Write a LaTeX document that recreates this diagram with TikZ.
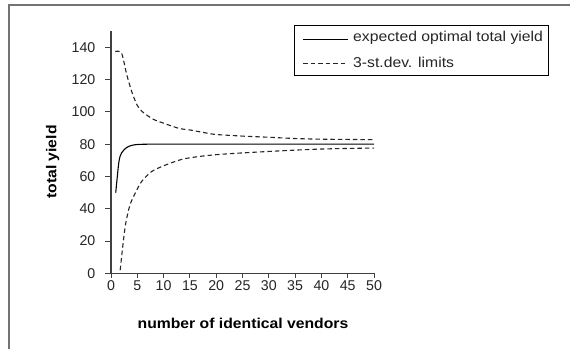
\documentclass[tikz,border=0pt]{standalone}
\usepackage{fontspec}
\setmainfont{Liberation Sans}
\newfontfamily\widefont[FakeStretch=1.1]{Liberation Sans}
\begin{document}
\begin{tikzpicture}[x=1pt,y=1pt,
  frameline/.style={draw=black!55,line width=1.8pt},
  axisline/.style={draw=black!75,line width=1.1pt},
  curve/.style={draw=black,line width=1.1pt},
  dcurve/.style={draw=black!85,line width=1.1pt,dash pattern=on 4.5pt off 3pt},
  ticklab/.style={font=\fontsize{14.2}{16}\selectfont,inner sep=0pt,text=black!85},
  axlab/.style={font=\widefont\bfseries\fontsize{14.3}{17}\selectfont,inner sep=0pt},
  legtext/.style={font=\widefont\fontsize{14.3}{17}\selectfont,inner sep=0pt,anchor=west,text=black!85}]
\useasboundingbox (0,0) rectangle (570,349);
\fill[white] (0,0) rectangle (570,349);
% frame (top and left)
\coordinate (fTL) at (9,344);
\coordinate (fTR) at (570,344);
\coordinate (fBL) at (9,0);
\draw[frameline] (fBL) -- (fTL) -- (fTR);
\begin{scope}[shift={(111,75.7)},x=5.26pt,y=1.614pt]
  \coordinate (o) at (0,0);
  \coordinate (ytop) at (0,150);
  \coordinate (xend) at (50,0);
  % ticks
  \foreach \v in {0,20,...,140}{
    \draw[axisline,line width=0.9pt] (0,\v) -- ++(-6pt,0);
    \node[ticklab,anchor=east] (yt\v) at ([xshift=-15.5pt]0,\v) {\v};
  }
  \foreach \v in {0,5,...,50}{
    \draw[axisline,line width=0.9pt] (\v,0) -- ++(0,-4.5pt);
    \node[ticklab,anchor=center] (xt\v) at ([yshift=-12pt]\v,0) {\v};
  }
  \draw[axisline] (ytop) -- (o) -- (xend);
  % curves
  \draw[curve] plot[smooth,tension=0.45] coordinates {(0.9,50) (1.5,69) (2,74.5) (3,78) (4,79.3) (5,79.8) (7,80) (10,80) (50,80)};
  \draw[dcurve] plot[smooth,tension=0.45] coordinates {(0.8,137.4) (2,136.5) (3,123) (4,112) (5,104) (6,100) (8,95.5) (10,93) (13,89.7) (15,88.8) (18,87) (20,86) (25,85) (30,84.3) (35,83.5) (40,83.1) (50,82.8)};
  \draw[dcurve] plot[smooth,tension=0.45] coordinates {(1.75,2) (2.3,18.6) (2.8,31) (3.6,42.3) (4.6,49.6) (5.8,56.8) (7.7,63) (10.3,67) (14,71) (20,73.5) (30,75.5) (40,77) (50,77.6)};
\end{scope}
% axis titles
\node[axlab] (xtitle) at (243,26) {number of identical vendors};
\node[axlab,rotate=90] (ytitle) at (52.7,187) {total yield};
% legend
\node[draw=black,line width=1pt,minimum width=254pt,minimum height=49pt,inner sep=0pt] (legend) at (421,298.5) {};
\coordinate (l1a) at (303,309.7);
\coordinate (l1b) at (348,309.7);
\coordinate (l2a) at (303,285.7);
\coordinate (l2b) at (348,285.7);
\draw[curve,line width=1pt] (l1a) -- (l1b);
\draw[dcurve,line width=1pt] (l2a) -- (l2b);
\node[legtext] (leg1) at (353,310.7) {expected optimal total yield};
\node[legtext] (leg2) at (353,286.7) {3-st.dev. limits};
\end{tikzpicture}
\end{document}
